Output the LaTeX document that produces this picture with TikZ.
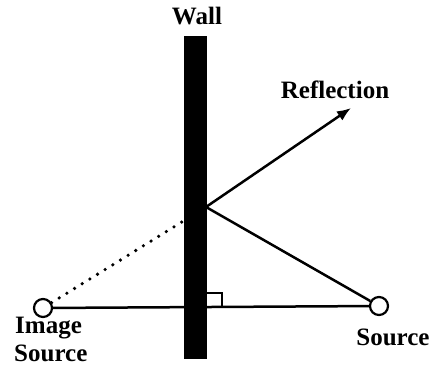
\documentclass[tikz,border=0pt]{standalone}
\usepackage{fontspec}
\setmainfont{Liberation Serif}
\usetikzlibrary{arrows.meta}
\begin{document}
\begin{tikzpicture}[x=1pt,y=-1pt,
  lbl/.style={font=\fontsize{25}{28}\selectfont\bfseries, inner sep=0pt},
  src/.style={circle, draw, line width=2.2pt, minimum size=18pt, inner sep=0pt, fill=white},
  ray/.style={line width=2.5pt},
  wallfill/.style={fill=black, draw=black}]
\useasboundingbox (0,0) rectangle (435,379);
% image source dotted line behind wall
\coordinate (R) at (206,207);
\node[src] (I) at (43,308) {};
\node[src] (S) at (379,306) {};
\draw[line width=3.6pt, line cap=round, dash pattern=on 0pt off 9pt] (I) -- (R);
% wall
\path[wallfill] (184,36) rectangle (206,358);
\node[lbl, anchor=base] (wl) at (197,25) {Wall};
% rays
\coordinate (T) at (351,108);
\draw[ray] (S) -- (R);
\draw[ray, -{Latex[length=14pt,width=11pt]}] (R) -- (T);
\draw[ray] (I) -- (S);
% right angle
\draw[line width=1.8pt] (206,293) -- (222,293) -- (222,307);
% labels
\node[lbl, anchor=base] (rl) at (335,99) {Reflection};
\node[lbl, anchor=base west] (il) at (15,333) {Image};
\node[lbl, anchor=base west] (sl) at (14,361) {Source};
\node[lbl, anchor=base] (sr) at (393,345) {Source};
\end{tikzpicture}
\end{document}
